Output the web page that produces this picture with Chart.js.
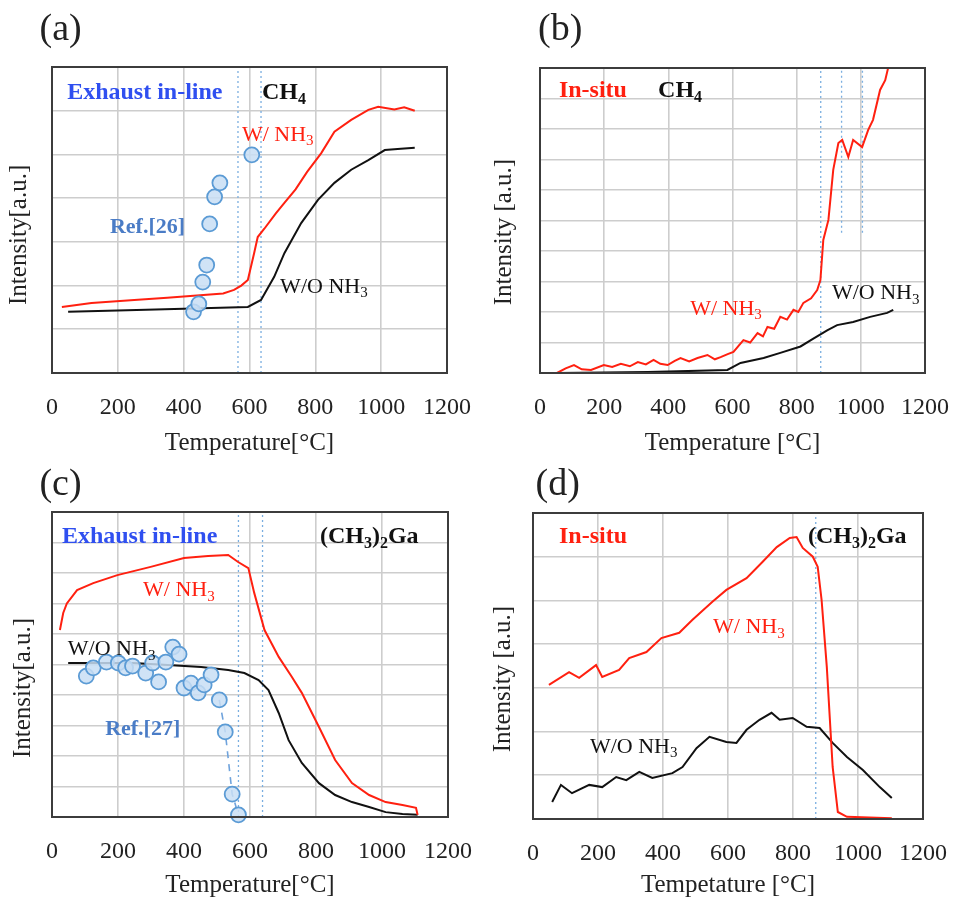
<!DOCTYPE html>
<html>
<head>
<meta charset="utf-8">
<script src="https://cdn.jsdelivr.net/npm/chart.js@4.4.0/dist/chart.umd.min.js"></script>
<style>
  body { margin: 0; background: #fff; width: 954px; height: 900px; position: relative; overflow: hidden; }
  .panel { position: absolute; }
</style>
</head>
<body>
<div class="panel" style="left:0;top:0"><canvas id="chartA" width="477" height="458"></canvas></div>
<div class="panel" style="left:477px;top:0"><canvas id="chartB" width="477" height="458"></canvas></div>
<div class="panel" style="left:0;top:458px"><canvas id="chartC" width="477" height="442"></canvas></div>
<div class="panel" style="left:477px;top:458px"><canvas id="chartD" width="477" height="442"></canvas></div>
<script>
// x axis ticks (temperature, °C)
const tempTicks = [0, 200, 400, 600, 800, 1000, 1200];

// (a) CH4, exhaust in-line
const aTempNH3 = [30, 120, 250, 350, 450, 520, 553, 575, 595, 614, 625, 645, 680, 706, 740, 775, 818, 858, 909, 961, 991, 1040, 1070, 1102];
const aIntNH3 = [1.51, 1.6, 1.67, 1.72, 1.78, 1.82, 1.9, 2.0, 2.13, 2.74, 3.11, 3.3, 3.65, 3.89, 4.2, 4.6, 5.03, 5.52, 5.79, 6.02, 6.09, 6.03, 6.08, 6.0];
const aTempWO = [49, 200, 400, 595, 635, 675, 706, 757, 808, 858, 909, 961, 1011, 1060, 1102];
const aIntWO = [1.40, 1.43, 1.47, 1.51, 1.67, 2.2, 2.74, 3.43, 3.96, 4.35, 4.65, 4.87, 5.1, 5.13, 5.15];
const ref26Temp = [430, 446, 458, 470, 479, 494, 510, 607];
const ref26Int = [1.40, 1.58, 2.08, 2.47, 3.41, 4.03, 4.35, 4.99];
const aMarkers = [565, 635];

// (b) CH4, in-situ
const bTempNH3 = [53, 80, 106, 130, 159, 199, 225, 252, 280, 305, 330, 354, 375, 398, 420, 438, 465, 491, 522, 545,
  563, 585, 603, 634, 655, 678, 695, 709, 730, 749, 770, 790, 805, 821, 845, 864, 874, 883, 899, 914,
  930, 942, 961, 976, 1004, 1023, 1038, 1060, 1076, 1085];
const bIntNH3 = [0.0, 0.15, 0.26, 0.12, 0.1, 0.26, 0.2, 0.3, 0.22, 0.36, 0.28, 0.43, 0.3, 0.26, 0.4, 0.49, 0.38, 0.49, 0.59, 0.45,
  0.52, 0.62, 0.69, 1.08, 1.0, 1.31, 1.2, 1.51, 1.45, 1.84, 1.75, 2.07, 2.0, 2.3, 2.45, 2.72, 3.05, 4.36, 5.02, 6.66,
  7.54, 7.64, 7.08, 7.64, 7.41, 7.97, 8.3, 9.28, 9.6, 10.0];
const bTempWO = [53, 336, 584, 625, 697, 749, 812, 852, 895, 926, 976, 1029, 1082, 1101];
const bIntWO = [0, 0.03, 0.1, 0.33, 0.49, 0.66, 0.87, 1.13, 1.4, 1.57, 1.67, 1.84, 1.97, 2.07];
const bMarkers = [875];
const bShortMarkers = [940, 1005];
const bShortMarkerLow = 4.6;

// (c) (CH3)2Ga, exhaust in-line
const cTempNH3 = [24, 34, 45, 76, 125, 198, 299, 400, 473, 534, 564, 595, 613, 644, 687, 727, 757, 809, 858, 909, 961, 1011, 1062, 1103, 1108];
const cIntNH3 = [6.13, 6.69, 7.0, 7.44, 7.67, 7.93, 8.2, 8.49, 8.56, 8.59, 8.36, 8.16, 7.34, 6.13, 5.25, 4.59, 4.07, 2.95, 1.87, 1.11, 0.72, 0.49, 0.39, 0.3, 0.07];
const cTempWO = [49, 147, 247, 351, 452, 534, 583, 626, 656, 687, 717, 757, 809, 858, 909, 961, 1011, 1062, 1108];
const cIntWO = [5.05, 5.05, 5.05, 4.98, 4.92, 4.82, 4.72, 4.49, 4.16, 3.41, 2.52, 1.77, 1.11, 0.72, 0.49, 0.33, 0.16, 0.1, 0.07];
const ref27Temp = [104, 125, 165, 201, 223, 244, 284, 305, 323, 345, 366, 385, 400, 421, 443, 461, 482, 507, 525, 546, 565];
const ref27Int = [4.62, 4.89, 5.08, 5.05, 4.89, 4.95, 4.72, 5.05, 4.43, 5.08, 5.57, 5.34, 4.23, 4.39, 4.07, 4.33, 4.66, 3.84, 2.79, 0.75, 0.07];
const cMarkers = [565, 638];

// (d) (CH3)2Ga, in-situ
const dTempNH3 = [49, 111, 142, 194, 213, 265, 296, 349, 395, 450, 490, 552, 595, 657, 706, 750, 790, 811, 830, 861, 876, 888, 904, 922, 938, 966, 1104];
const dIntNH3 = [3.07, 3.36, 3.23, 3.52, 3.25, 3.41, 3.68, 3.82, 4.14, 4.26, 4.55, 4.97, 5.24, 5.51, 5.88, 6.22, 6.43, 6.45, 6.2, 6.0, 5.77, 5.01, 3.48, 1.19, 0.16, 0.05, 0.02];
const dTempWO = [59, 86, 120, 173, 213, 256, 287, 327, 367, 429, 460, 503, 543, 595, 626, 657, 697, 734, 759, 799, 842, 882, 922, 966, 1015, 1067, 1104];
const dIntWO = [0.39, 0.78, 0.59, 0.78, 0.73, 0.96, 0.89, 1.08, 0.94, 1.05, 1.19, 1.62, 1.88, 1.76, 1.74, 2.04, 2.27, 2.43, 2.27, 2.31, 2.11, 2.08, 1.74, 1.42, 1.12, 0.73, 0.48];
const dMarkers = [870];

const serif = "'Liberation Serif', 'Times New Roman', serif";
const RED = '#ff2010';
const BLUE = '#2f4ff0';
const STEEL = '#4a7cc6';

const pts = (xs, ys) => xs.map((x, i) => ({ x: x, y: ys[i] }));

function lineSet(xs, ys, color) {
  return { type: 'line', data: pts(xs, ys), borderColor: color, borderWidth: 2, pointRadius: 0, tension: 0, fill: false };
}
function refSet(xs, ys) {
  return {
    type: 'scatter', data: pts(xs, ys), pointRadius: 7.5, pointBackgroundColor: 'rgba(200,222,245,0.85)',
    pointBorderColor: '#5b9bd5', pointBorderWidth: 1.8, clip: 12
  };
}
function markerSet(x, top, low) {
  return {
    type: 'line', data: [{ x: x, y: low }, { x: x, y: top }], borderColor: '#7aaee0', borderWidth: 1.3,
    borderDash: [2, 3], pointRadius: 0, tension: 0
  };
}

// frame + free text (with "_x" subscripts)
const panelText = {
  id: 'panelText',
  afterDraw(chart, args, opts) {
    const ctx = chart.ctx;
    const a = chart.chartArea;
    ctx.save();
    ctx.strokeStyle = '#3c3c3c';
    ctx.lineWidth = 2;
    ctx.strokeRect(a.left, a.top, a.right - a.left, a.bottom - a.top);
    (opts.items || []).forEach(it => {
      const size = it.size || 22;
      const weight = it.bold ? 'bold ' : '';
      const parts = [];
      for (let i = 0; i < it.text.length; i++) {
        const ch = it.text[i];
        if (ch === '_') { parts.push({ t: it.text[i + 1], sub: true }); i++; }
        else if (parts.length && !parts[parts.length - 1].sub) parts[parts.length - 1].t += ch;
        else parts.push({ t: ch, sub: false });
      }
      const fontOf = p => weight + (p.sub ? Math.round(size * 0.66) : size) + 'px ' + serif;
      let total = 0;
      parts.forEach(p => { ctx.font = fontOf(p); p.w = ctx.measureText(p.t).width; total += p.w; });
      const px = chart.scales.x.getPixelForValue(it.x);
      const py = chart.scales.y.getPixelForValue(it.y);
      ctx.save();
      ctx.translate(px, py);
      if (it.rotate) ctx.rotate(-Math.PI / 2);
      let cx = it.center ? -total / 2 : 0;
      ctx.fillStyle = it.color || '#111';
      ctx.textBaseline = 'middle';
      ctx.textAlign = 'left';
      parts.forEach(p => {
        ctx.font = fontOf(p);
        ctx.fillText(p.t, cx, p.sub ? size * 0.3 : 0);
        cx += p.w;
      });
      ctx.restore();
    });
    ctx.restore();
  }
};

function makeChart(id, cfg) {
  const ctx = document.getElementById(id).getContext('2d');
  return new Chart(ctx, {
    data: { datasets: cfg.datasets },
    options: {
      responsive: false,
      animation: false,
      devicePixelRatio: 1,
      layout: { padding: { left: cfg.area[0], top: cfg.area[1], right: cfg.area[2], bottom: 0 } },
      plugins: { legend: { display: false }, tooltip: { enabled: false }, panelText: { items: cfg.texts } },
      scales: {
        x: {
          type: 'linear', min: 0, max: 1200,
          afterBuildTicks: s => { s.ticks = tempTicks.map(v => ({ value: v })); },
          afterFit: s => { s.height = cfg.xHeight; s.paddingLeft = 0; s.paddingRight = 0; },
          grid: { color: '#cdcdcd', lineWidth: 1.6, drawTicks: false },
          border: { display: false },
          ticks: { padding: 20, color: '#222', font: { family: serif, size: 24 }, callback: v => String(v) },
          title: { display: true, text: cfg.xTitle, color: '#222', padding: { top: 0, bottom: 0 }, font: { family: serif, size: 25 } }
        },
        y: {
          type: 'linear', min: 0, max: cfg.yMax,
          afterFit: s => { s.width = 0; },
          grid: { color: '#cdcdcd', lineWidth: 1.6, drawTicks: false },
          border: { display: false },
          ticks: { display: false, stepSize: 1 }
        }
      }
    },
    plugins: [panelText]
  });
}

makeChart('chartA', {
  area: [52, 67, 30], xHeight: 85, yMax: 7, xTitle: 'Temperature[°C]',
  datasets: [
    refSet(ref26Temp, ref26Int),
    lineSet(aTempNH3, aIntNH3, RED),
    lineSet(aTempWO, aIntWO, '#111'),
    ...aMarkers.map(t => markerSet(t, 7, 0))
  ],
  texts: [
    { text: '(a)', x: -38, y: 7.85, size: 38, color: '#222' },
    { text: 'Intensity[a.u.]', x: -98, y: 3.16, size: 25, rotate: true, center: true, color: '#222' },
    { text: 'Exhaust in-line', x: 46, y: 6.41, size: 24, bold: true, color: BLUE },
    { text: 'CH_4', x: 638, y: 6.41, size: 24, bold: true },
    { text: 'W/ NH_3', x: 577, y: 5.45, color: RED },
    { text: 'Ref.[26]', x: 176, y: 3.34, bold: true, color: STEEL },
    { text: 'W/O NH_3', x: 693, y: 1.97, color: '#111' }
  ]
});

makeChart('chartB', {
  area: [63, 68, 29], xHeight: 85, yMax: 10, xTitle: 'Temperature [°C]',
  datasets: [
    lineSet(bTempNH3, bIntNH3, RED),
    lineSet(bTempWO, bIntWO, '#111'),
    ...bMarkers.map(t => markerSet(t, 10, 0)),
    ...bShortMarkers.map(t => markerSet(t, 10, bShortMarkerLow))
  ],
  texts: [
    { text: '(b)', x: -6, y: 11.25, size: 38, color: '#222' },
    { text: 'Intensity [a.u.]', x: -112, y: 4.62, size: 25, rotate: true, center: true, color: '#222' },
    { text: 'In-situ', x: 59, y: 9.25, size: 24, bold: true, color: RED },
    { text: 'CH_4', x: 368, y: 9.25, size: 24, bold: true },
    { text: 'W/ NH_3', x: 468, y: 2.1, color: RED },
    { text: 'W/O NH_3', x: 910, y: 2.62, color: '#111' }
  ]
});

makeChart('chartC', {
  area: [52, 54, 29], xHeight: 83, yMax: 10, xTitle: 'Temperature[°C]',
  datasets: [
    refSet(ref27Temp, ref27Int),
    Object.assign(lineSet(ref27Temp.slice(-4), ref27Int.slice(-4), '#6fa3dc'), { borderDash: [7, 6], borderWidth: 1.6 }),
    lineSet(cTempNH3, cIntNH3, RED),
    lineSet(cTempWO, cIntWO, '#111'),
    ...cMarkers.map(t => markerSet(t, 10, 0))
  ],
  texts: [
    { text: '(c)', x: -38, y: 10.9, size: 38, color: '#222' },
    { text: 'Intensity[a.u.]', x: -88, y: 4.23, size: 25, rotate: true, center: true, color: '#222' },
    { text: 'Exhaust in-line', x: 30, y: 9.2, size: 24, bold: true, color: BLUE },
    { text: '(CH_3)_2Ga', x: 812, y: 9.2, size: 24, bold: true },
    { text: 'W/ NH_3', x: 276, y: 7.44, color: RED },
    { text: 'W/O NH_3', x: 48, y: 5.5, color: '#111' },
    { text: 'Ref.[27]', x: 161, y: 2.89, bold: true, color: STEEL }
  ]
});

makeChart('chartD', {
  area: [56, 55, 31], xHeight: 81, yMax: 7, xTitle: 'Tempetature [°C]',
  datasets: [
    lineSet(dTempNH3, dIntNH3, RED),
    lineSet(dTempWO, dIntWO, '#111'),
    ...dMarkers.map(t => markerSet(t, 7, 0))
  ],
  texts: [
    { text: '(d)', x: 8, y: 7.64, size: 38, color: '#222' },
    { text: 'Intensity [a.u.]', x: -92, y: 3.2, size: 25, rotate: true, center: true, color: '#222' },
    { text: 'In-situ', x: 80, y: 6.45, size: 24, bold: true, color: RED },
    { text: '(CH_3)_2Ga', x: 846, y: 6.45, size: 24, bold: true },
    { text: 'W/ NH_3', x: 554, y: 4.39, color: RED },
    { text: 'W/O NH_3', x: 175, y: 1.65, color: '#111' }
  ]
});
</script>
</body>
</html>
